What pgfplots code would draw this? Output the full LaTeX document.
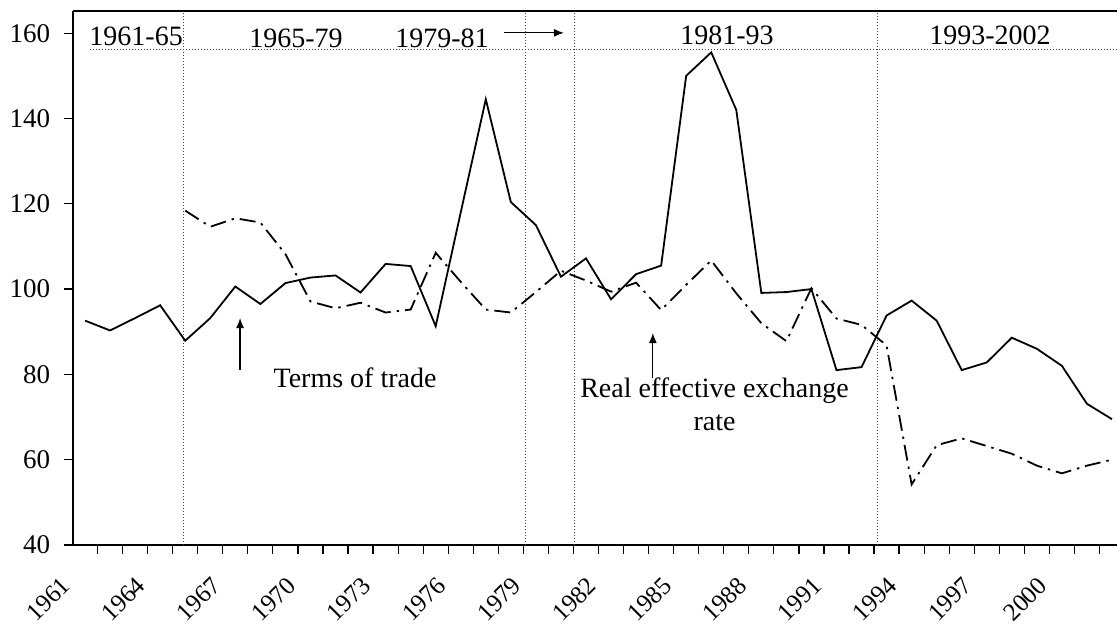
\documentclass[border=0pt]{standalone}
\usepackage{fontspec}
\setmainfont{Liberation Serif}
\usepackage{pgfplots}
\usepackage{pgfplotstable}
\pgfplotsset{compat=1.18}
\usetikzlibrary{arrows.meta}
\pgfplotstableread{
year tot
1961 92.6
1962 90.3
1963 93.2
1964 96.2
1965 87.9
1966 93.2
1967 100.6
1968 96.5
1969 101.4
1970 102.7
1971 103.2
1972 99.2
1973 105.9
1974 105.4
1975 91.3
1976 118.0
1977 144.5
1978 120.4
1979 115.0
1980 102.9
1981 107.2
1982 97.6
1983 103.5
1984 105.5
1985 150.0
1986 155.5
1987 142.0
1988 99.1
1989 99.3
1990 100.0
1991 81.0
1992 81.7
1993 93.8
1994 97.3
1995 92.6
1996 81.0
1997 82.8
1998 88.6
1999 86.0
2000 82.0
2001 73.1
2002 69.5
}\tot
\pgfplotstableread{
year reer
1965 118.4
1966 114.6
1967 116.6
1968 115.6
1969 108.2
1970 97.1
1971 95.5
1972 96.8
1973 94.5
1974 95.2
1975 108.5
1976 101.7
1977 95.2
1978 94.5
1979 99.3
1980 104.3
1981 102.0
1982 99.4
1983 101.5
1984 95.1
1985 101.0
1986 106.7
1987 99.0
1988 92.0
1989 87.8
1990 100.2
1991 93.1
1992 91.6
1993 86.8
1994 54.2
1995 63.4
1996 65.0
1997 63.2
1998 61.4
1999 58.6
2000 56.8
2001 58.6
2002 60.0
}\reer
\begin{document}
\begin{tikzpicture}
\begin{axis}[
  at={(36.25pt,39.5pt)}, anchor=south west,
  scale only axis, width=522.5pt, height=267pt,
  xmin=1960.5, xmax=2002.22, ymin=40, ymax=165.2,
  axis x line=box, axis y line=left,
  x axis line style={-, line width=1pt},
  y axis line style={-, line width=1pt},
  xtick={1961.5,1962.5,...,2001.5},
  xticklabels={},
  xtick pos=left, ytick pos=left,
  ytick={40,60,...,160},
  major tick style={line width=0.6pt, black},
  major tick length=4.5pt,
  tick align=outside,
  /pgf/number format/assume math mode=true,
  yticklabel style={font=\fontsize{13.5}{13.5}\selectfont, xshift=-3.5pt, inner sep=3pt},
  clip=false,
]
% dotted period separators
\draw[densely dotted, black!75, line width=0.5pt] (axis cs:1961.2,156.1) -- (axis cs:2002.22,156.1);
\foreach \xx in {1964.92,1978.6,1980.56,1992.65}{
  \edef\tmp{\noexpand\draw[densely dotted, black!75, line width=0.5pt] (axis cs:\xx,40) -- (axis cs:\xx,165.2);}\tmp
}
\addplot[black, line width=0.9pt, mark=none] table[x=year,y=tot]{\tot};
\addplot[black, line width=0.9pt, mark=none, dash pattern=on 8pt off 3pt on 1.2pt off 3pt] table[x=year,y=reer]{\reer};
% year labels (rotated)
\begin{scope}[every node/.style={font=\fontsize{12.5}{12.5}\selectfont, inner sep=0pt, rotate=45, anchor=north east}]
\node at (axis cs:1960,32.96) {1961};
\node at (axis cs:1963,32.96) {1964};
\node at (axis cs:1966,32.96) {1967};
\node at (axis cs:1969,32.96) {1970};
\node at (axis cs:1972,32.96) {1973};
\node at (axis cs:1975,32.96) {1976};
\node at (axis cs:1978,32.96) {1979};
\node at (axis cs:1981,32.96) {1982};
\node at (axis cs:1984,32.96) {1985};
\node at (axis cs:1987,32.96) {1988};
\node at (axis cs:1990,32.96) {1991};
\node at (axis cs:1993,32.96) {1994};
\node at (axis cs:1996,32.96) {1997};
\node at (axis cs:1999,32.96) {2000};
\end{scope}
% period labels
\begin{scope}[every node/.style={font=\fontsize{14}{14}\selectfont, inner sep=0pt}]
\node at (axis cs:1963.04,159.2) {1961-65};
\node at (axis cs:1969.42,158.7) {1965-79};
\node at (axis cs:1975.25,158.7) {1979-81};
\node at (axis cs:1986.63,159.6) {1981-93};
\node at (axis cs:1997.13,159.6) {1993-2002};
\node at (axis cs:1971.78,79.2) {Terms of trade};
\node[align=center, font=\fontsize{14}{16.5}\selectfont] at (axis cs:1986.13,73.0) {Real effective exchange\\rate};
\end{scope}
\draw[-{Latex[length=5pt,width=4pt]}, line width=0.6pt] (axis cs:1977.73,160.07) -- (axis cs:1980.12,160.07);
\draw[-{Latex[length=5pt,width=4pt]}, line width=0.6pt] (axis cs:1967.19,81.0) -- (axis cs:1967.19,93.2);
\draw[-{Latex[length=5pt,width=4pt]}, line width=0.6pt] (axis cs:1983.67,79.2) -- (axis cs:1983.67,89.7);
\end{axis}
\pgfresetboundingbox
\path (0,0) rectangle (558.5pt,312pt);
\end{tikzpicture}
\end{document}
